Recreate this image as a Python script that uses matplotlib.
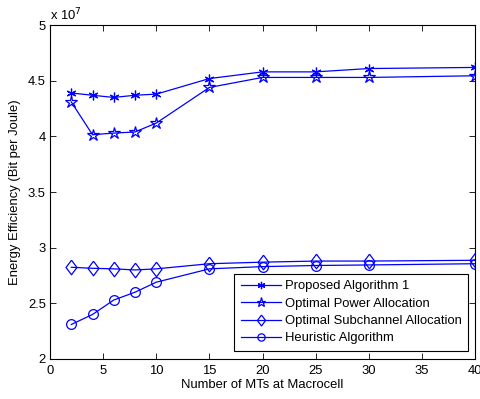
import numpy as np
from matplotlib import pyplot as plt
from matplotlib.ticker import FuncFormatter, MultipleLocator

plt.rcParams['font.family'] = ['Liberation Sans', 'DejaVu Sans']
plt.rcParams['font.size'] = 9.4

# number of MTs at macrocell
n_mts = [2, 4, 6, 8, 10, 15, 20, 25, 30, 40]

# energy efficiency, in units of 1e7 bit per Joule
proposed = [4.39, 4.37, 4.35, 4.37, 4.38, 4.52, 4.58, 4.58, 4.61, 4.62]
opt_power = [4.31, 4.015, 4.03, 4.04, 4.12, 4.44, 4.53, 4.53, 4.53, 4.545]
opt_subch = [2.824, 2.815, 2.81, 2.80, 2.81, 2.856, 2.87, 2.88, 2.88, 2.887]
heuristic = [2.31, 2.40, 2.53, 2.60, 2.69, 2.81, 2.83, 2.84, 2.845, 2.856]

labels = ["Proposed Algorithm 1", "Optimal Power Allocation",
          "Optimal Subchannel Allocation", "Heuristic Algorithm"]

scale = 1e7
fig = plt.figure(figsize=(4.81, 3.99), dpi=100)
ax = fig.add_axes([0.104, 0.1003, 0.8836, 0.8367])

# matlab-like diamond, a bit wider than mpl's thin diamond
diamond = [(0, 1), (0.75, 0), (0, -1), (-0.75, 0), (0, 1)]

blue = (0, 0, 1)
style = dict(color=blue, lw=0.9, markerfacecolor='none', markeredgecolor=blue, markeredgewidth=0.9)
ax.plot(n_mts, np.array(proposed) * scale, marker=(6, 2, 0), ms=7, label=labels[0], **style)
ax.plot(n_mts, np.array(opt_power) * scale, marker='*', ms=9, label=labels[1], **style)
ax.plot(n_mts, np.array(opt_subch) * scale, marker=diamond, ms=10.5, label=labels[2], **style)
ax.plot(n_mts, np.array(heuristic) * scale, marker='o', ms=7, label=labels[3], **style)

ax.set_xlim(0, 40)
ax.set_ylim(2e7, 5e7)
ax.xaxis.set_major_locator(MultipleLocator(5))
ax.yaxis.set_major_locator(MultipleLocator(0.5e7))
ax.yaxis.set_major_formatter(FuncFormatter(lambda v, p: "%g" % (v / scale)))
ax.tick_params(direction='in', top=True, right=True, length=4, width=0.6)
ax.tick_params(axis='x', pad=4)
ax.tick_params(axis='y', pad=3)
for s in ax.spines.values():
    s.set_linewidth(0.8)

ax.text(0, 1.005, r"x 10$^7$", transform=ax.transAxes, ha='left', va='bottom')
ax.set_xlabel("Number of MTs at Macrocell", labelpad=2)
ax.set_ylabel("Energy Efficiency (Bit per Joule)", labelpad=5)

leg = ax.legend(loc='lower right', bbox_to_anchor=(0.9835, 0.024), fancybox=False,
                edgecolor='black', framealpha=1, borderaxespad=0, markerscale=0.75,
                handlelength=3.07, handletextpad=0.3, borderpad=0.5, labelspacing=0.4)
leg.get_frame().set_linewidth(0.8)

fig.savefig("out.png", dpi=100)
